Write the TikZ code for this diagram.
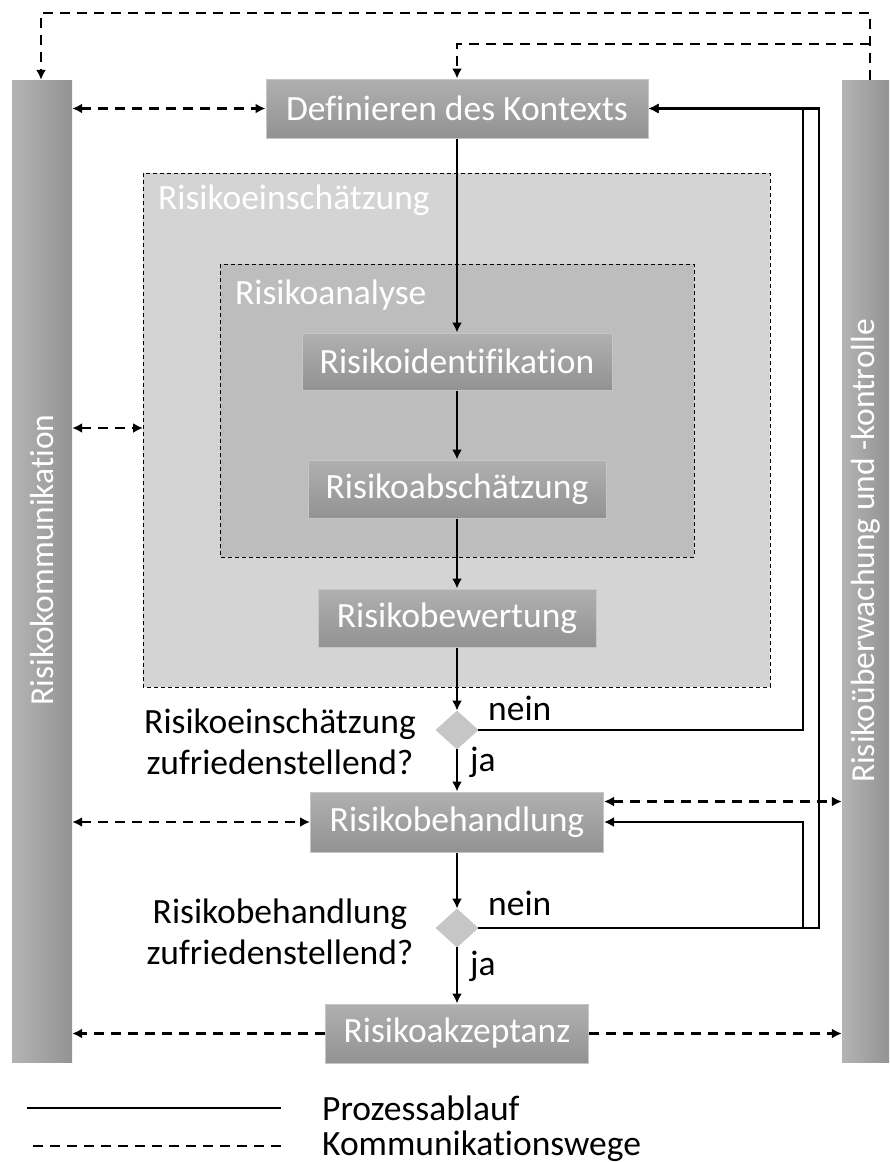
\documentclass[tikz,border=0pt]{standalone}
\usepackage{fontspec}
\setmainfont{Carlito}[Ligatures={NoCommon}]
\usetikzlibrary{arrows.meta,shapes.geometric}
\definecolor{boxtop}{HTML}{B0B0B0}
\definecolor{boxbot}{HTML}{929292}
\definecolor{boxline}{HTML}{C6C6C6}
\definecolor{outerfill}{HTML}{D4D4D4}
\definecolor{innerfill}{HTML}{BDBDBD}
\definecolor{barl}{HTML}{B4B4B4}
\definecolor{barr}{HTML}{939393}
\definecolor{diafill}{HTML}{C6C6C6}
\begin{document}
\begin{tikzpicture}[x=1pt,y=-1pt,
  txt/.style={font=\fontsize{35.5}{41}\selectfont},
  proc/.style={txt, draw=boxline, line width=1pt, top color=boxtop, bottom color=boxbot, text=white, inner sep=0pt},
  bar/.style={left color=barl, right color=barr, inner sep=0pt, minimum width=60pt, minimum height=982pt},
  group/.style={draw=black, line width=1pt, dash pattern=on 4pt off 3pt},
  dia/.style={shape=diamond, fill=diafill, draw=boxline, line width=0.8pt, inner sep=0pt, minimum width=42pt, minimum height=38pt},
  flow/.style={line width=2.8pt, black},
  comm/.style={line width=2.8pt, black, dash pattern=on 10pt off 7pt},
  tip/.style={-{Latex[length=10pt,width=10pt]}},
  tips/.style={{Latex[length=10pt,width=10pt]}-{Latex[length=10pt,width=10pt]}},
  btxt/.style={txt, text=black, inner sep=0pt},
  wtxt/.style={txt, text=white, inner sep=0pt},
  bartxt/.style={font=\fontsize{33.5}{40}\selectfont, text=white, inner sep=0pt, rotate=90}
]
\useasboundingbox (0,0) rectangle (889,1162);

% side bars
\node[bar] (lbar) at (42,571) {};
\node[bar, minimum width=47pt] (rbar) at (865.5,571) {};
\node[bartxt] (ltext) at (42,560) {Risikokommunikation};
\node[bartxt] (rtext) at (866,551) {Risikoüberwachung und -kontrolle};

% groups
\filldraw[group, fill=outerfill] (143,173) rectangle (770,687);
\node[wtxt, anchor=west] (einl) at (158,200) {Risikoeinschätzung};
\filldraw[group, fill=innerfill] (220,264) rectangle (694,557);
\node[wtxt, anchor=west] (anal) at (235,295) {Risikoanalyse};
\coordinate (outerw) at (143,428);

% process nodes
\node[proc, minimum width=382pt, minimum height=59pt] (Def) at (457,108.5) {Definieren des Kontexts};
\node[proc, minimum width=310pt, minimum height=57pt] (Ident) at (457,361.5) {Risikoidentifikation};
\node[proc, minimum width=298pt, minimum height=58pt] (Absch) at (457,489) {Risikoabschätzung};
\node[proc, minimum width=278pt, minimum height=58pt] (Bew) at (457,618) {Risikobewertung};
\node[dia] (d1) at (457,730) {};
\node[proc, minimum width=293pt, minimum height=60pt] (Beh) at (457,822) {Risikobehandlung};
\node[dia] (d2) at (457,928) {};
\node[proc, minimum width=263pt, minimum height=59pt] (Akz) at (457,1033.5) {Risikoakzeptanz};
\coordinate (behc) at ([yshift=-10pt]Beh.north east);

% question texts
\node[btxt, align=center] (q1) at (280,742) {Risikoeinschätzung\\zufriedenstellend?};
\node[btxt, align=center] (q2) at (280,932) {Risikobehandlung\\zufriedenstellend?};
\node[btxt, anchor=west] (n1) at (488,708) {nein};
\node[btxt, anchor=west] (j1) at (470,762) {ja};
\node[btxt, anchor=west] (n2) at (488,903) {nein};
\node[btxt, anchor=west] (j2) at (470,966) {ja};

% process flow
\draw[flow,tip] (Def.south) -- (Ident.north);
\draw[flow,tip] (Ident.south) -- (Absch.north);
\draw[flow,tip] (Absch.south) -- (Bew.north);
\draw[flow,tip] (Bew.south) -- (d1.north);
\draw[flow,tip] (d1.south) -- (Beh.north);
\draw[flow,tip] (Beh.south) -- (d2.north);
\draw[flow,tip] (d2.south) -- (Akz.north);
\coordinate (r1) at (803,0);
\coordinate (r2) at (819,0);
\draw[flow,tip] (d1.east) -- (d1.east -| r1) -- (Def.east -| r1) -- (Def.east);
\draw[flow,tip] (d2.east) -- (d2.east -| r2) -- (Def.east -| r2) -- (Def.east);
\draw[flow,tip] (d2.east -| r1) -- (Beh.east -| r1) -- (Beh.east);

% communication
\coordinate (t1) at (870,13);
\coordinate (t2) at (41,13);
\coordinate (t3) at (870,44);
\draw[comm,tip] (rbar.north -| t1) -- (t1) -- (t2) -- (lbar.north -| t2);
\draw[comm,tip] (t3) -| (Def.north);
\draw[comm,tips] (lbar.east |- Def.west) -- (Def.west);
\draw[comm,tips] (lbar.east |- outerw) -- (outerw);
\draw[comm,tips] (lbar.east |- Beh.west) -- (Beh.west);
\draw[comm,tips] (behc) -- (rbar.west |- behc);
\draw[comm,tip] (Akz.west) -- (lbar.east |- Akz.west);
\draw[comm,tip] (Akz.east) -- (rbar.west |- Akz.east);

% legend
\coordinate (la1) at (27,1108);
\coordinate (la2) at (281,1108);
\coordinate (lb1) at (27,1146);
\coordinate (lb2) at (281,1146);
\draw[flow] (la1) -- (la2);
\draw[comm] (lb2) -- (lb1);
\node[btxt, anchor=west] (leg1) at (322,1108) {Prozessablauf};
\node[btxt, anchor=west] (leg2) at (322,1146) {Kommunikationswege};
\end{tikzpicture}
\end{document}
